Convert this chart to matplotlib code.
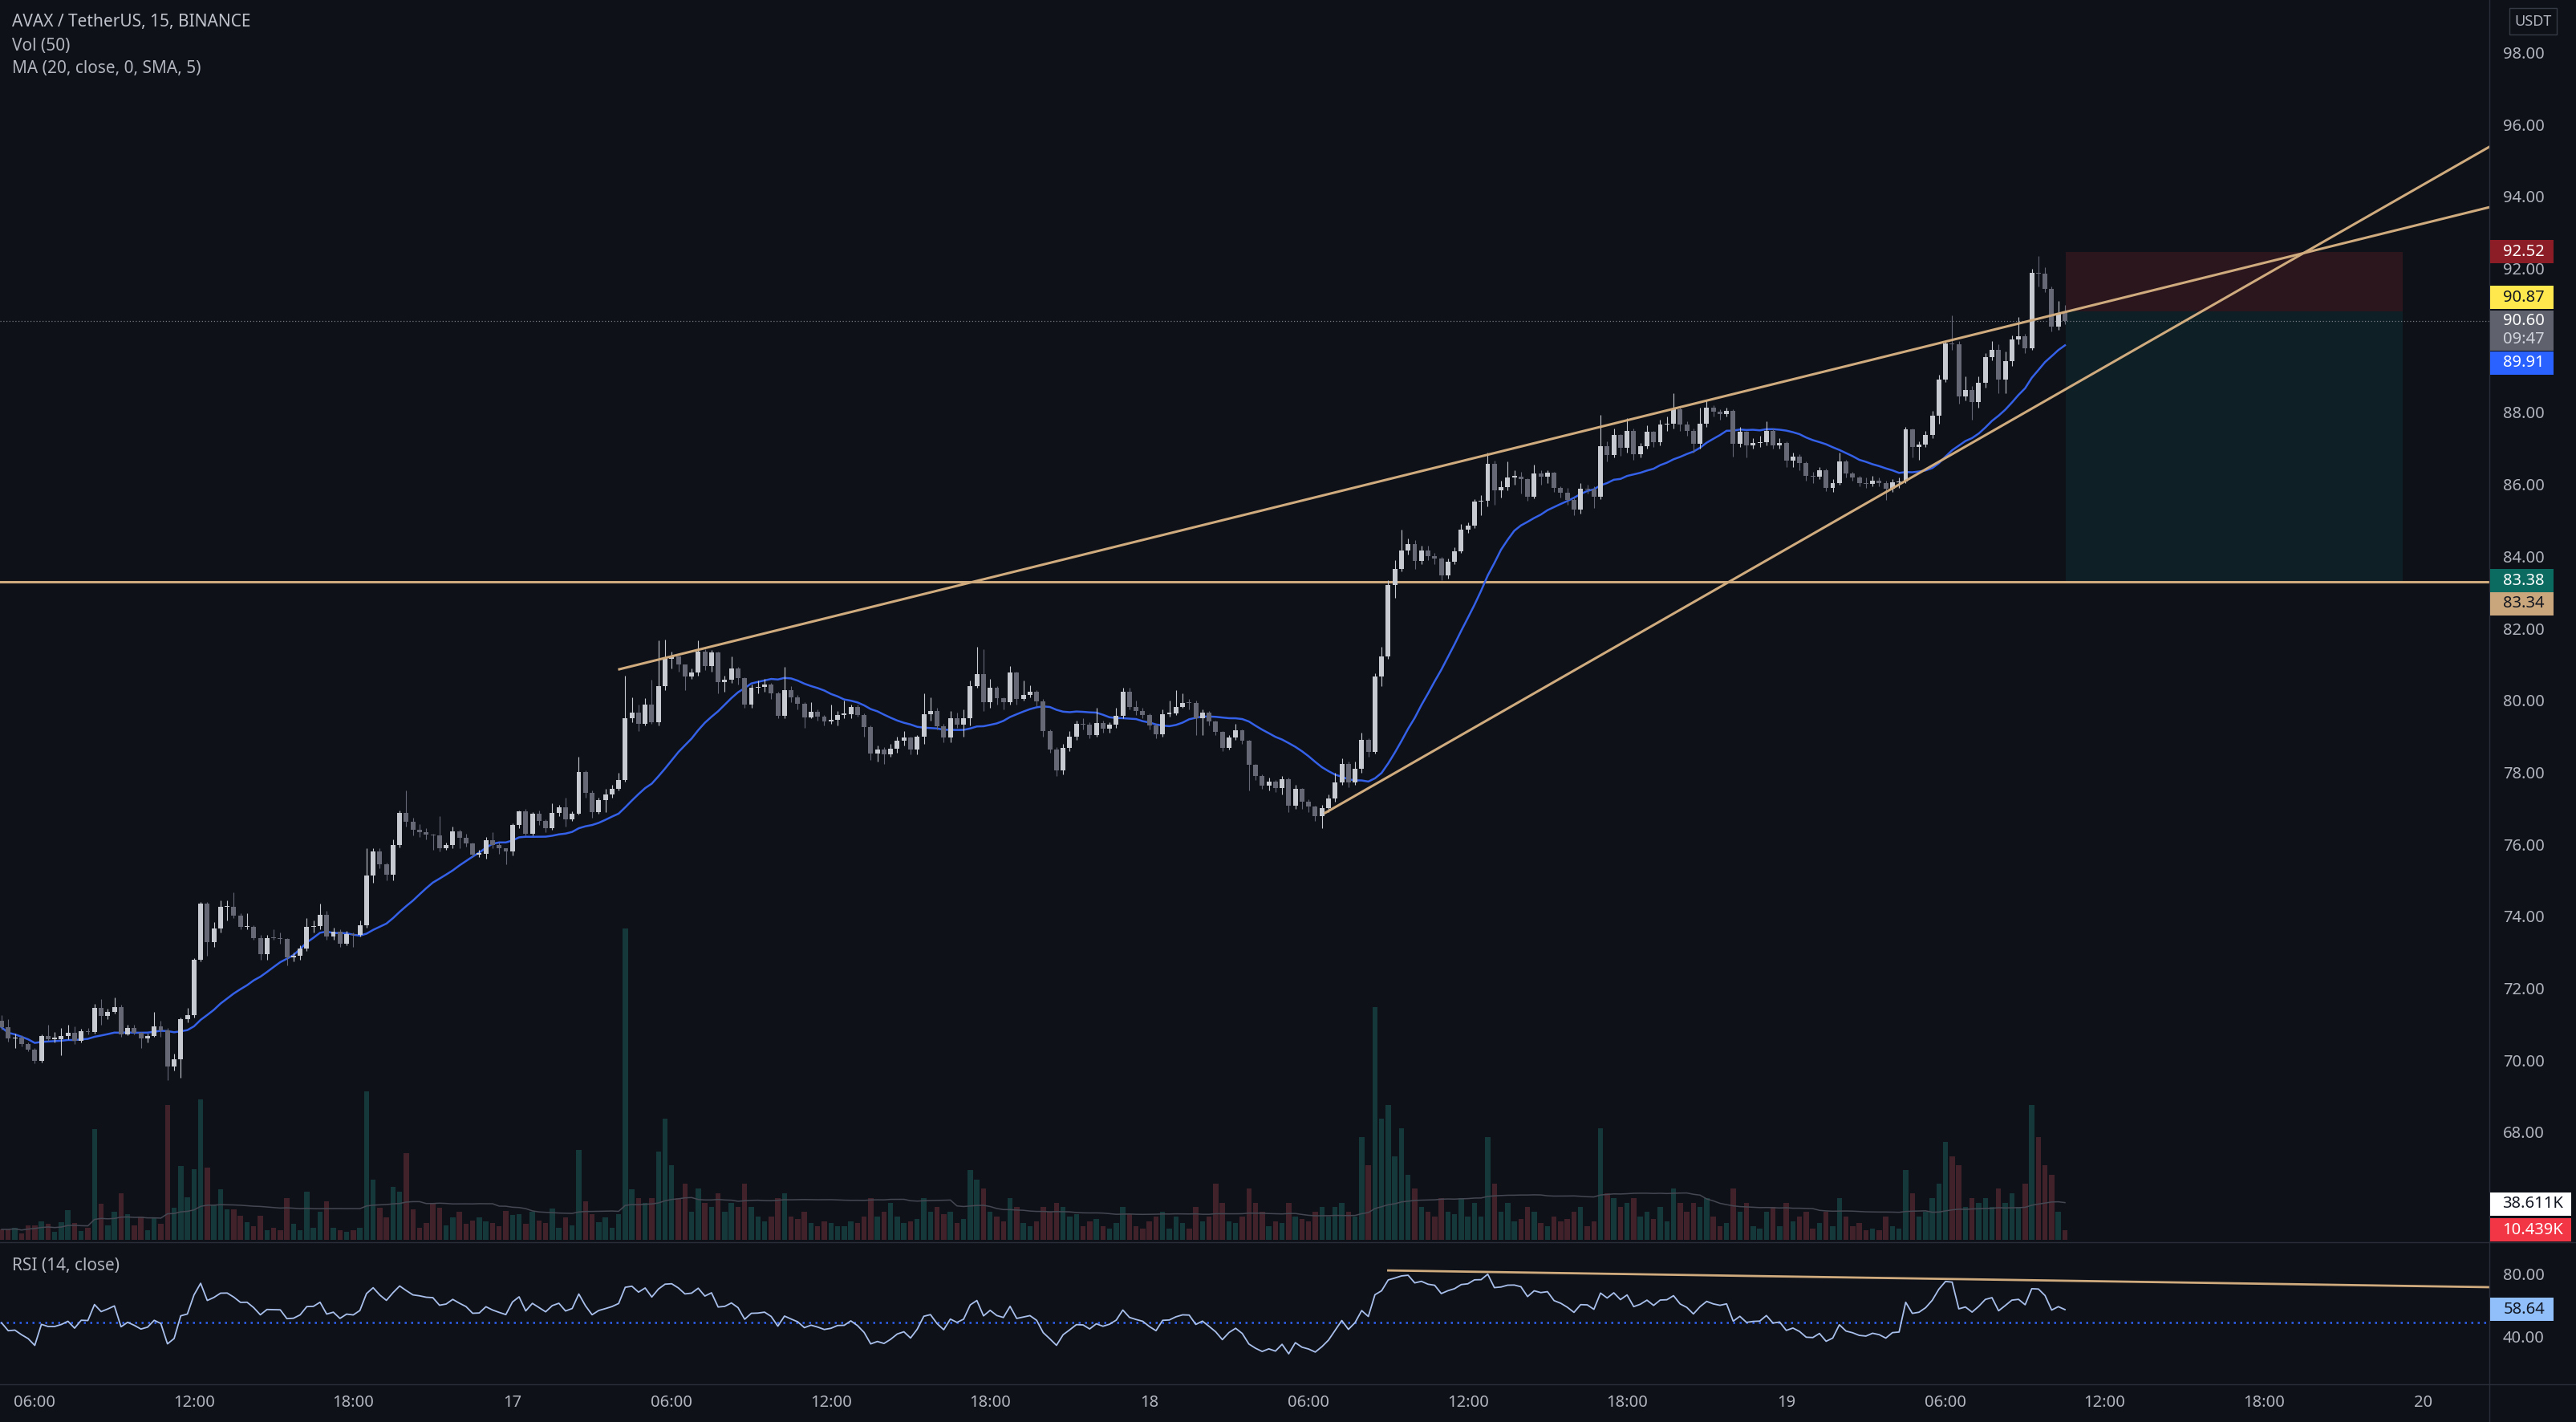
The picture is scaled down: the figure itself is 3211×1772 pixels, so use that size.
import matplotlib
matplotlib.use("Agg")
import matplotlib.pyplot as plt
import numpy as np
import pandas as pd
from matplotlib.lines import Line2D
from matplotlib.patches import Rectangle

W, H = 3212, 1772
BG = "#0e1118"
TXT = "#b2b5be"
TAN = "#d0ab7e"
UP, DOWN = "#c7cad1", "#666975"
VOL_UP, VOL_DN = "#15393a", "#41212a"
FS = 14.5

plt.rcParams["font.family"] = ["Noto Sans", "DejaVu Sans"]

# 15m candles, 16th 04:45 -> 19th 10:30
first_open = 71.15
closes = [
    70.97, 70.67, 70.69, 70.51, 70.35, 70.04, 70.74, 70.65, 70.65, 70.72,
    70.83, 70.59, 70.86, 70.85, 71.51, 71.28, 71.40, 71.54, 70.77, 70.96,
    70.83, 70.67, 70.74, 71.00, 70.88, 69.88, 70.08, 71.19, 71.30, 72.84,
    74.40, 73.33, 73.72, 74.31, 74.33, 74.08, 73.76, 73.77, 73.45, 73.00,
    73.45, 73.44, 73.43, 72.92, 72.95, 73.17, 73.76, 73.78, 74.09, 73.50,
    73.63, 73.30, 73.57, 73.53, 73.80, 75.18, 75.86, 75.50, 75.22, 76.04,
    76.93, 76.68, 76.45, 76.40, 76.33, 76.31, 75.95, 76.04, 76.41, 76.24,
    76.09, 75.78, 75.80, 76.18, 76.04, 75.94, 75.85, 76.59, 76.97, 76.36,
    76.90, 76.70, 76.50, 76.92, 77.09, 76.74, 76.90, 78.07, 77.48, 76.96,
    77.29, 77.44, 77.60, 77.84, 79.56, 79.71, 79.41, 79.93, 79.45, 80.45,
    81.20, 81.27, 81.05, 80.73, 80.82, 81.42, 81.01, 81.38, 80.56, 80.62,
    80.94, 80.67, 79.93, 80.41, 80.43, 80.50, 80.25, 79.63, 80.34, 80.15,
    79.97, 79.58, 79.73, 79.61, 79.46, 79.52, 79.66, 79.67, 79.88, 79.66,
    79.31, 78.59, 78.69, 78.56, 78.72, 78.93, 79.02, 78.69, 79.04, 79.67,
    79.76, 79.34, 79.02, 79.56, 79.39, 79.56, 80.45, 80.79, 80.01, 80.41,
    80.12, 80.01, 80.82, 80.10, 80.20, 80.30, 80.03, 79.20, 78.70, 78.10,
    78.73, 79.05, 79.40, 79.38, 79.10, 79.42, 79.26, 79.38, 79.62, 80.29,
    79.88, 79.76, 79.66, 79.36, 79.11, 79.68, 79.70, 79.88, 79.99, 79.98,
    79.55, 79.71, 79.46, 79.18, 78.73, 79.03, 79.22, 78.94, 78.27, 77.95,
    77.69, 77.79, 77.62, 77.87, 77.14, 77.60, 77.25, 77.10, 76.85, 77.06,
    77.33, 77.77, 78.29, 77.77, 78.15, 78.96, 78.62, 80.72, 81.27, 83.26,
    83.71, 84.23, 84.40, 83.93, 84.23, 84.06, 84.00, 83.52, 83.91, 84.19,
    84.80, 84.92, 85.57, 85.60, 86.62, 85.90, 85.99, 86.26, 86.28, 86.20,
    85.72, 86.37, 86.28, 86.38, 85.95, 85.82, 85.62, 85.36, 85.93, 85.92,
    85.71, 87.12, 86.87, 87.42, 87.07, 87.55, 86.90, 87.12, 87.51, 87.22,
    87.72, 87.75, 88.14, 87.72, 87.54, 87.18, 87.74, 88.20, 88.07, 88.00,
    88.11, 87.18, 87.51, 87.14, 87.20, 87.22, 87.55, 87.14, 87.20, 86.72,
    86.84, 86.64, 86.29, 86.27, 86.44, 85.97, 86.10, 86.70, 86.35, 86.25,
    86.10, 86.06, 86.17, 86.10, 85.93, 86.12, 86.14, 87.59, 87.09, 87.16,
    87.44, 87.96, 88.98, 89.97, 89.94, 88.50, 88.68, 88.35, 88.87, 89.59,
    89.79, 88.96, 89.48, 90.08, 90.17, 89.84, 91.94, 91.92, 91.50, 90.43,
    90.83, 90.60,
]
highs = [
    71.30, 71.20, 70.80, 70.75, 70.55, 70.40, 70.78, 71.05, 70.85, 70.95,
    71.05, 71.00, 70.92, 70.95, 71.62, 71.75, 71.48, 71.80, 71.60, 71.05,
    71.05, 70.85, 70.80, 71.40, 71.15, 70.95, 70.25, 71.25, 71.50, 72.90,
    74.45, 74.45, 73.90, 74.50, 74.50, 74.72, 74.15, 74.15, 73.80, 73.55,
    73.55, 73.70, 73.60, 73.45, 73.05, 73.25, 74.00, 73.95, 74.40, 74.20,
    73.75, 73.70, 73.65, 73.60, 73.95, 75.95, 75.95, 75.95, 75.55, 76.20,
    77.00, 77.56, 76.80, 76.62, 76.50, 76.35, 76.83, 76.10, 76.55, 76.45,
    76.35, 76.10, 75.90, 76.25, 76.40, 76.10, 75.95, 76.65, 77.00, 77.05,
    76.95, 77.00, 76.75, 77.20, 77.15, 77.35, 76.98, 78.50, 78.10, 77.55,
    77.35, 77.60, 77.70, 78.05, 80.75, 80.15, 79.95, 80.12, 80.62, 81.72,
    81.75, 81.40, 81.30, 81.05, 80.95, 81.72, 81.48, 81.45, 81.40, 80.75,
    81.27, 80.98, 80.70, 80.50, 80.60, 80.65, 80.55, 80.30, 80.99, 80.45,
    80.20, 80.00, 80.00, 79.80, 79.65, 79.95, 79.75, 80.05, 79.95, 79.95,
    79.70, 79.35, 78.80, 78.75, 78.85, 79.05, 79.20, 79.05, 79.10, 80.25,
    80.15, 79.85, 79.40, 79.75, 79.72, 79.80, 80.60, 81.54, 81.48, 80.65,
    80.45, 80.15, 81.02, 80.85, 80.60, 80.48, 80.35, 80.10, 79.25, 78.75,
    78.85, 79.20, 79.50, 79.55, 79.45, 79.85, 79.50, 79.45, 79.85, 80.41,
    80.40, 80.05, 79.85, 79.70, 79.40, 79.80, 80.05, 80.33, 80.25, 80.10,
    80.05, 79.80, 79.75, 79.50, 79.20, 79.10, 79.40, 79.25, 78.95, 78.30,
    78.00, 77.90, 77.85, 77.95, 77.90, 77.70, 77.62, 77.30, 77.12, 77.15,
    77.45, 78.05, 78.45, 78.35, 78.35, 79.15, 79.00, 80.80, 81.55, 83.40,
    83.95, 84.80, 84.55, 84.50, 84.35, 84.35, 84.15, 84.05, 84.00, 84.30,
    84.95, 85.00, 85.65, 85.75, 86.93, 86.72, 86.15, 86.70, 86.45, 86.40,
    86.22, 86.60, 86.45, 86.45, 86.40, 86.00, 85.95, 85.70, 86.10, 86.05,
    86.00, 87.98, 87.25, 87.60, 87.45, 87.90, 87.60, 87.20, 87.70, 87.55,
    87.85, 87.95, 88.59, 88.20, 87.80, 87.60, 88.20, 88.40, 88.25, 88.15,
    88.20, 88.15, 87.65, 87.55, 87.35, 87.40, 87.80, 87.60, 87.35, 87.25,
    86.95, 86.90, 86.70, 86.40, 86.55, 86.50, 86.20, 86.94, 86.75, 86.40,
    86.30, 86.25, 86.30, 86.25, 86.15, 86.20, 86.25, 87.65, 87.60, 87.25,
    87.55, 88.10, 89.10, 90.05, 90.75, 90.05, 89.05, 88.80, 89.05, 89.70,
    90.05, 89.95, 89.75, 90.20, 90.71, 90.25, 92.05, 92.40, 92.10, 91.55,
    91.15, 91.04,
]
lows = [
    70.90, 70.58, 70.40, 70.45, 70.30, 69.98, 70.00, 70.60, 70.55, 70.20,
    70.65, 70.50, 70.55, 70.78, 70.80, 71.05, 71.20, 71.35, 70.70, 70.75,
    70.78, 70.40, 70.55, 70.70, 70.70, 69.50, 69.78, 69.58, 71.10, 71.25,
    72.80, 72.95, 73.20, 73.60, 73.95, 74.00, 73.70, 73.70, 73.40, 72.85,
    72.85, 73.40, 73.30, 72.70, 72.80, 72.85, 73.10, 73.60, 73.70, 73.40,
    73.40, 73.20, 73.25, 73.20, 73.50, 73.75, 75.00, 75.40, 75.05, 75.05,
    75.98, 76.55, 76.30, 76.25, 76.20, 75.90, 75.85, 75.90, 75.95, 75.95,
    76.00, 75.70, 75.70, 75.65, 75.95, 75.80, 75.50, 75.75, 76.50, 76.30,
    76.30, 76.60, 76.40, 76.45, 76.85, 76.55, 76.70, 76.88, 77.35, 76.80,
    76.90, 76.95, 77.35, 77.55, 77.80, 79.45, 79.20, 79.35, 79.40, 79.35,
    80.35, 80.95, 80.85, 80.35, 80.65, 80.75, 80.90, 80.85, 80.25, 80.30,
    80.55, 80.50, 79.85, 79.85, 80.25, 80.30, 80.10, 79.55, 79.55, 80.00,
    79.80, 79.30, 79.55, 79.50, 79.35, 79.40, 79.35, 79.55, 79.55, 79.60,
    79.05, 78.40, 78.35, 78.30, 78.50, 78.60, 78.80, 78.55, 78.55, 78.85,
    79.50, 79.25, 78.90, 78.88, 79.30, 79.05, 79.35, 80.40, 79.75, 79.85,
    79.95, 79.80, 79.95, 79.95, 80.05, 80.15, 79.90, 79.05, 78.60, 77.95,
    78.00, 78.65, 78.95, 79.25, 79.00, 79.05, 79.15, 79.15, 79.30, 79.55,
    79.80, 79.65, 79.55, 79.25, 79.00, 79.05, 79.60, 79.65, 79.85, 79.80,
    79.10, 79.10, 79.35, 79.10, 78.65, 78.70, 78.95, 78.85, 77.55, 77.85,
    77.60, 77.55, 77.50, 77.45, 76.95, 77.05, 77.05, 76.95, 76.70, 76.50,
    76.95, 77.25, 77.70, 77.65, 77.70, 78.05, 78.50, 78.58, 80.45, 81.20,
    82.90, 83.65, 84.10, 83.70, 83.85, 83.95, 83.85, 83.40, 83.45, 83.85,
    84.15, 84.70, 84.85, 85.20, 85.45, 85.50, 85.70, 85.90, 86.05, 85.80,
    85.60, 85.68, 86.05, 86.10, 85.85, 85.70, 85.50, 85.20, 85.25, 85.80,
    85.40, 85.65, 86.70, 86.80, 86.85, 86.95, 86.75, 86.80, 87.05, 87.10,
    87.15, 87.55, 87.60, 87.55, 87.40, 86.95, 87.05, 87.65, 87.95, 87.85,
    87.95, 86.84, 87.10, 86.80, 87.05, 87.10, 87.15, 87.05, 87.05, 86.55,
    86.55, 86.45, 86.15, 86.10, 86.20, 85.86, 85.85, 86.05, 86.25, 86.15,
    86.00, 85.95, 86.00, 86.00, 85.62, 85.85, 85.95, 86.10, 86.80, 86.75,
    87.10, 87.35, 87.75, 88.90, 89.80, 88.30, 88.40, 87.85, 88.20, 88.75,
    89.50, 88.60, 88.60, 89.35, 89.95, 89.70, 89.80, 91.55, 91.40, 90.30,
    90.35, 90.50,
]
# volume in thousands of AVAX
volumes = [
    11.2, 11.2, 12.9, 6.9, 15.5, 15.5, 19.8, 17.2, 8.6, 19.0,
    31.9, 18.1, 9.5, 12.9, 119.0, 38.8, 15.5, 30.2, 50.0, 27.6,
    15.5, 25.0, 10.3, 24.1, 17.2, 144.8, 34.5, 79.3, 45.7, 75.9,
    150.9, 77.6, 37.1, 54.3, 32.8, 32.8, 25.9, 19.0, 14.7, 25.9,
    10.3, 12.9, 10.3, 44.8, 17.2, 10.3, 51.7, 12.9, 30.2, 41.4,
    12.9, 10.3, 8.6, 10.3, 12.9, 159.5, 64.7, 34.5, 24.1, 56.9,
    51.7, 93.1, 32.8, 12.9, 18.1, 38.8, 34.5, 15.5, 24.1, 30.2,
    17.2, 20.7, 24.1, 19.8, 18.1, 14.7, 31.0, 26.7, 27.6, 17.2,
    30.2, 20.7, 18.1, 33.6, 12.9, 24.1, 15.5, 96.6, 41.4, 27.6,
    19.0, 24.1, 12.9, 27.6, 334.5, 54.3, 44.8,
    40, 45, 95, 130, 80, 45, 60, 30, 55, 40,
    35, 50, 30, 40, 35, 60, 35, 25, 20, 25,
    45, 50, 25, 22, 30, 18, 15, 20, 18, 15,
    15, 20, 18, 25, 45, 25, 30, 40, 25, 18,
    20, 22, 45, 30, 35, 28, 30, 18, 22, 75,
    65, 55, 30, 25, 20, 45, 35, 18, 15, 20,
    35, 30, 40, 35, 25, 28, 15, 20, 22, 15,
    12, 18, 35, 28, 15, 12, 20, 25, 30, 12,
    25, 18, 12, 35, 20, 25, 60, 40, 20, 18,
    25, 55, 40, 30, 15, 20, 18, 40, 25, 22,
    20, 30, 35, 25, 35, 40, 30, 25, 110, 80,
    250, 130, 145, 90, 120, 70, 55, 35, 30, 25,
    45, 30, 28, 45, 25, 40, 25, 110, 60, 30,
    40, 20, 22, 35, 30, 18, 15, 25, 20, 22,
    30, 35, 15, 20, 120, 50, 45, 35, 40, 45,
    25, 30, 22, 35, 20, 55, 40, 30, 40, 35,
    45, 25, 15, 18, 55, 30, 40, 15, 12, 30,
    35, 15, 40, 20, 25, 30, 12, 18, 30, 15,
    45, 25, 15, 18, 10, 12, 10, 25, 15, 12,
    75, 50, 25, 30, 45, 60, 105, 90, 80, 35,
    45, 40, 45, 35, 55, 40, 50, 35, 60, 145,
    110, 80, 70, 30, 10.4,
]

price_ticks = [98, 96, 94, 92, 90, 88, 86, 84, 82, 80, 78, 76, 74, 72, 70, 68]
rsi_ticks = [80, 40]
x_labels = ["06:00", "12:00", "18:00", "17", "06:00", "12:00", "18:00", "18",
            "06:00", "12:00", "18:00", "19", "06:00", "12:00", "18:00", "20"]
x_label_bars = [5, 29, 53, 77, 101, 125, 149, 173,
                197, 221, 245, 269, 293, 317, 341, 365]

# drawings: (bar index, price)
upper_line = [(93.1, 80.92), (375.0, 93.76)]
lower_line = [(199.5, 76.93), (375.0, 95.44)]
support_level = 83.34
rsi_trend = [(209.0, 83.5), (375.0, 72.8)]
entry, stop, target = 90.87, 92.52, 83.38
position_bars = (311.1, 361.9)

n = len(closes)
assert len(highs) == n and len(lows) == n and len(volumes) == n

df = pd.DataFrame({"close": closes, "high": highs, "low": lows, "volume": volumes})
df["open"] = [first_open] + closes[:-1]
df["ma"] = df["close"].rolling(20, min_periods=1).mean()
df["vol_ma"] = df["volume"].rolling(50, min_periods=1).mean()

# Wilder RSI(14); history before the window is unknown, so start neutral
delta = df["close"].diff().fillna(0).to_numpy()
seed = np.abs(delta[1:15]).mean() / 2
avg_g, avg_l = seed, seed
rsi = []
for d in delta:
    avg_g = (avg_g * 13 + max(d, 0)) / 14
    avg_l = (avg_l * 13 + max(-d, 0)) / 14
    rsi.append(100 - 100 / (1 + avg_g / avg_l))
df["rsi"] = rsi

idx = np.arange(n)
is_up = df["close"] >= df["open"]
cols = np.where(is_up, UP, DOWN)
vcols = np.where(is_up, VOL_UP, VOL_DN)

fig = plt.figure(figsize=(W / 100, H / 100), dpi=100, facecolor=BG)
main_rect = [0, 1 - 1548 / H, 3103 / W, 1548 / H]
axv = fig.add_axes(main_rect)
ax = fig.add_axes(main_rect, sharex=axv)
axr = fig.add_axes([0, 1 - 1725 / H, 3103 / W, 176 / H], sharex=axv)
for a in (axv, ax, axr):
    a.axis("off")
axv.set_xlim(-0.242, 374.97)
ax.set_ylim(65.0, 99.516)
axv.set_ylim(-2.59, 1331.9)
axr.set_ylim(10.77, 101.0)

# volume
axv.bar(idx, df["volume"], width=0.78, color=vcols, linewidth=0)
axv.plot(idx, df["vol_ma"], color="#454852", lw=1.1)

# position tool
x0, x1 = position_bars
ax.add_patch(Rectangle((x0, entry), x1 - x0, stop - entry, fc="#2c161e", ec="none", zorder=1))
ax.add_patch(Rectangle((x0, target), x1 - x0, entry - target, fc="#0e1f26", ec="none", zorder=1))

ax.axhline(support_level, color=TAN, lw=2.2, zorder=2)
ax.axhline(closes[-1], color="#757983", lw=0.9, ls=(0, (1, 2)), zorder=2)

# candles
body_lo = np.minimum(df["open"], df["close"])
body_h = np.maximum((df["close"] - df["open"]).abs(), 0.025)
ax.vlines(idx, df["low"], df["high"], colors=cols, lw=0.8, zorder=4)
ax.bar(idx, body_h, bottom=body_lo, width=0.72, color=cols, linewidth=0, zorder=4.5)
ax.plot(idx, df["ma"], color="#3461e8", lw=1.8, zorder=3.5)

for ln in (upper_line, lower_line):
    ax.plot([p[0] for p in ln], [p[1] for p in ln], color=TAN, lw=2.2, zorder=6)

# RSI pane
axr.plot(idx, df["rsi"], color="#a9c0ec", lw=1.3, zorder=3)
axr.axhline(50, color="#2f62f5", lw=1.8, ls=(0, (1, 2.2)), zorder=2)
axr.plot([p[0] for p in rsi_trend], [p[1] for p in rsi_trend], color=TAN, lw=2.0, zorder=4)

# separators
sep = "#2a2e39"
fig.add_artist(Line2D([3103 / W] * 2, [0, 1], color=sep, lw=1))
for yy in (1548, 1725):
    fig.add_artist(Line2D([0, 1], [1 - yy / H] * 2, color=sep, lw=1))


def y_of(axis, v):
    return H - axis.transData.transform((0, v))[1]


def tag(y, text, fc, tc, right=3183, tx=3172, h=29):
    fig.add_artist(Rectangle((3104 / W, 1 - (y + h / 2) / H), (right - 3104) / W, h / H,
                             transform=fig.transFigure, fc=fc, ec="none", zorder=4))
    fig.text(tx / W, 1 - y / H, text, ha="right", va="center", color=tc, fontsize=FS, zorder=5)


for p in price_ticks:
    fig.text(3172 / W, 1 - y_of(ax, p) / H, f"{p:.2f}", ha="right", va="center", color=TXT, fontsize=FS)
for r in rsi_ticks:
    fig.text(3172 / W, 1 - y_of(axr, r) / H, f"{r:.2f}", ha="right", va="center", color=TXT, fontsize=FS)

tag(y_of(ax, stop), f"{stop:.2f}", "#8c1c25", "#ffffff")
tag(y_of(ax, entry) - 17, f"{entry:.2f}", "#ffe84d", "#131722")
y_last = y_of(ax, closes[-1])
fig.add_artist(Rectangle((3104 / W, 1 - (y_last + 37) / H), 79 / W, 50 / H,
                         transform=fig.transFigure, fc="#5f626c", ec="none", zorder=4))
fig.text(3172 / W, 1 - y_last / H, f"{closes[-1]:.2f}", ha="right", va="center", color="#ffffff", fontsize=FS, zorder=5)
fig.text(3172 / W, 1 - (y_last + 23) / H, "09:47", ha="right", va="center", color="#d1d4dc", fontsize=FS, zorder=5)
tag(y_of(ax, df["ma"].iloc[-1]) + 22, "89.91", "#2962ff", "#ffffff")
tag(y_of(ax, target), f"{target:.2f}", "#0b6b60", "#ffffff")
tag(y_of(ax, support_level) + 27, f"{support_level:.2f}", "#c9a67b", "#131722")
tag(y_of(axv, 38.611), "38.611K", "#ffffff", "#131722", right=3205, tx=3195)
tag(y_of(axv, volumes[-1]), "10.439K", "#f23645", "#ffffff", right=3205, tx=3195)
tag(y_of(axr, 58.64), "58.64", "#90bff9", "#131722")

# currency box
fig.add_artist(Rectangle((3128 / W, 1 - 43 / H), 59 / W, 33 / H, transform=fig.transFigure,
                         fc=BG, ec="#363a45", lw=1))
fig.text(3157.5 / W, 1 - 27 / H, "USDT", ha="center", va="center", color=TXT, fontsize=13)

# legends
fig.text(15 / W, 1 - 27 / H, "AVAX / TetherUS, 15, BINANCE", ha="left", va="center",
         color="#bfc2ca", fontsize=15, fontweight="bold")
fig.text(15 / W, 1 - 57 / H, "Vol (50)", ha="left", va="center", color=TXT, fontsize=15)
fig.text(15 / W, 1 - 86 / H, "MA (20, close, 0, SMA, 5)", ha="left", va="center", color=TXT, fontsize=15)
fig.text(15 / W, 1 - 1577 / H, "RSI (14, close)", ha="left", va="center", color=TXT, fontsize=15)

for b, lab in zip(x_label_bars, x_labels):
    xpx = ax.transData.transform((b, 80))[0]
    fig.text(xpx / W, 1 - 1748 / H, lab, ha="center", va="center", color=TXT, fontsize=FS)

fig.savefig("out.png", dpi=100, facecolor=BG)
